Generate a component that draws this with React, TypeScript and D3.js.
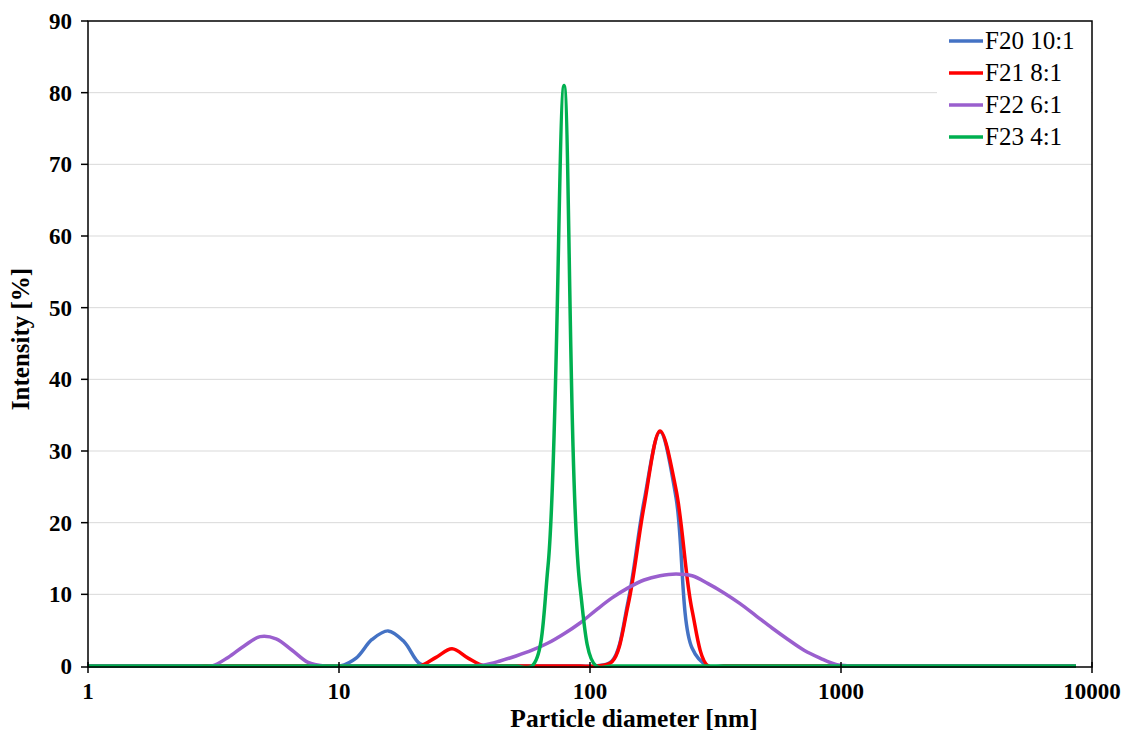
import React, { useEffect, useRef } from "react";
import * as d3 from "d3";

// Particle size bins (nm), as exported by the DLS instrument
const sizes = [
  0.9649, 1.117, 1.294, 1.499, 1.736, 2.01, 2.328, 2.696, 3.122, 3.615, 4.187, 4.849, 5.615, 6.503, 7.531, 8.721,
  10.1, 11.7, 13.54, 15.69, 18.17, 21.04, 24.36, 28.21, 32.67, 37.84, 43.82, 50.75, 58.77, 68.06, 78.82, 91.28,
  105.7, 122.4, 141.8, 164.2, 190.1, 220.2, 255.0, 295.3, 342.0, 396.1, 458.7, 531.2, 615.1, 712.4, 825.0, 955.4,
  1106, 1281, 1484, 1718, 1990, 2305, 2669, 3091, 3580, 4145, 4801, 5560, 6439, 7456, 8635,
];

// Intensity [%] per bin
const f20 = [
  0, 0, 0, 0, 0, 0, 0, 0, 0, 0, 0, 0, 0, 0, 0, 0,
  0, 1.1, 3.7, 4.9, 3.4, 0.3, 0, 0, 0, 0, 0, 0, 0, 0, 0, 0,
  0, 0.7, 9.0, 23.0, 32.7, 23.5, 2.5, 0, 0, 0, 0, 0, 0, 0, 0, 0,
  0, 0, 0, 0, 0, 0, 0, 0, 0, 0, 0, 0, 0, 0, 0,
];
const f21 = [
  0, 0, 0, 0, 0, 0, 0, 0, 0, 0, 0, 0, 0, 0, 0, 0,
  0, 0, 0, 0, 0, 0, 1.2, 2.4, 1.1, 0, 0, 0, 0, 0, 0, 0,
  0, 0.6, 8.5, 22.3, 32.8, 24.6, 7.8, 0, 0, 0, 0, 0, 0, 0, 0, 0,
  0, 0, 0, 0, 0, 0, 0, 0, 0, 0, 0, 0, 0, 0, 0,
];
const f22 = [
  0, 0, 0, 0, 0, 0, 0, 0, 0, 1.2, 2.8, 4.1, 3.8, 2.2, 0.5, 0,
  0, 0, 0, 0, 0, 0, 0, 0, 0, 0.15, 0.7, 1.4, 2.2, 3.2, 4.5, 6.0,
  7.8, 9.5, 10.9, 12.0, 12.6, 12.85, 12.6, 11.5, 10.2, 8.7, 7.0, 5.3, 3.7, 2.2, 1.1, 0.2,
  0, 0, 0, 0, 0, 0, 0, 0, 0, 0, 0, 0, 0, 0, 0,
];
const f23 = [
  0, 0, 0, 0, 0, 0, 0, 0, 0, 0, 0, 0, 0, 0, 0, 0,
  0, 0, 0, 0, 0, 0, 0, 0, 0, 0, 0, 0, 0, 14, 81, 11,
  0, 0, 0, 0, 0, 0, 0, 0, 0, 0, 0, 0, 0, 0, 0, 0,
  0, 0, 0, 0, 0, 0, 0, 0, 0, 0, 0, 0, 0, 0, 0,
];

const seriesNames = ["F20 10:1", "F21 8:1", "F22 6:1", "F23 4:1"];
const seriesValues = [f20, f21, f22, f23];
const seriesColors = ["#4472c4", "#ff0000", "#9a5fce", "#00b050"];

const xTicks = [1, 10, 100, 1000, 10000];
const yTicks = [0, 10, 20, 30, 40, 50, 60, 70, 80, 90];

const FONT = "'Liberation Serif', 'Times New Roman', serif";

export default function App() {
  const ref = useRef<SVGSVGElement>(null);

  useEffect(() => {
    const svg = d3.select(ref.current);
    svg.selectAll("*").remove();

    const left = 88,
      right = 1092,
      top = 21,
      bottom = 666;

    const x = d3.scaleLog().domain([1, 10000]).range([left, right]);
    const y = d3.scaleLinear().domain([0, 90]).range([bottom, top]);

    svg.append("rect").attr("width", 1125).attr("height", 733).attr("fill", "#fff");

    // horizontal gridlines
    svg
      .append("g")
      .selectAll("line")
      .data(yTicks.filter((t) => t > 0 && t < 90))
      .join("line")
      .attr("x1", left)
      .attr("x2", right)
      .attr("y1", (d) => y(d))
      .attr("y2", (d) => y(d))
      .attr("stroke", "#d9d9d9")
      .attr("stroke-width", 1);

    // clip series to the plot area
    svg
      .append("clipPath")
      .attr("id", "plot-clip")
      .append("rect")
      .attr("x", left)
      .attr("y", top)
      .attr("width", right - left)
      .attr("height", bottom - top + 2);

    const line = d3
      .line<[number, number]>()
      .x((d) => x(d[0]))
      .y((d) => y(d[1]))
      .curve(d3.curveCatmullRom.alpha(0.5));

    const series = svg.append("g").attr("clip-path", "url(#plot-clip)");
    seriesValues.forEach((vals, i) => {
      const pts = sizes.map((s, j) => [s, vals[j]] as [number, number]);
      series
        .append("path")
        .attr("d", line(pts))
        .attr("fill", "none")
        .attr("stroke", seriesColors[i])
        .attr("stroke-width", 3.5)
        .attr("stroke-linejoin", "round");
    });

    // frame and axes
    const axisY = bottom + 1;
    svg
      .append("rect")
      .attr("x", left)
      .attr("y", top)
      .attr("width", right - left)
      .attr("height", axisY - top)
      .attr("fill", "none")
      .attr("stroke", "#000")
      .attr("stroke-width", 1.5);

    // y ticks + labels
    const yAxis = svg.append("g");
    yAxis
      .selectAll("line")
      .data(yTicks)
      .join("line")
      .attr("x1", left - 7)
      .attr("x2", left)
      .attr("y1", (d) => (d === 0 ? axisY : y(d)))
      .attr("y2", (d) => (d === 0 ? axisY : y(d)))
      .attr("stroke", "#000")
      .attr("stroke-width", 1.5);
    yAxis
      .selectAll("text")
      .data(yTicks)
      .join("text")
      .attr("x", left - 16)
      .attr("y", (d) => y(d) + 8)
      .attr("text-anchor", "end")
      .attr("font-family", FONT)
      .attr("font-weight", "bold")
      .attr("font-size", 23)
      .text((d) => d);

    // x ticks + labels
    const xAxis = svg.append("g");
    xAxis
      .selectAll("line")
      .data(xTicks)
      .join("line")
      .attr("x1", (d) => x(d))
      .attr("x2", (d) => x(d))
      .attr("y1", axisY - 5)
      .attr("y2", axisY + 6)
      .attr("stroke", "#000")
      .attr("stroke-width", 1.5);
    xAxis
      .selectAll("text")
      .data(xTicks)
      .join("text")
      .attr("x", (d) => x(d))
      .attr("y", 699)
      .attr("text-anchor", "middle")
      .attr("font-family", FONT)
      .attr("font-weight", "bold")
      .attr("font-size", 23)
      .text((d) => d);

    // axis titles
    svg
      .append("text")
      .attr("x", 634)
      .attr("y", 727)
      .attr("text-anchor", "middle")
      .attr("font-family", FONT)
      .attr("font-weight", "bold")
      .attr("font-size", 25.5)
      .text("Particle diameter  [nm]");

    svg
      .append("text")
      .attr("transform", "translate(29, 339) rotate(-90)")
      .attr("text-anchor", "middle")
      .attr("font-family", FONT)
      .attr("font-weight", "bold")
      .attr("font-size", 25)
      .text("Intensity  [%]");

    // legend
    const legend = svg.append("g");
    legend
      .append("rect")
      .attr("x", 937)
      .attr("y", 22)
      .attr("width", 154)
      .attr("height", 132)
      .attr("fill", "#fff");
    seriesNames.forEach((name, i) => {
      const cy = 41 + i * 32;
      legend
        .append("line")
        .attr("x1", 949)
        .attr("x2", 983)
        .attr("y1", cy)
        .attr("y2", cy)
        .attr("stroke", seriesColors[i])
        .attr("stroke-width", 3.5);
      legend
        .append("text")
        .attr("x", 985)
        .attr("y", cy + 8)
        .attr("font-family", FONT)
        .attr("font-size", 25)
        .text(name);
    });
  }, []);

  return (
    <svg
      ref={ref}
      width={1125}
      height={733}
      style={{ position: "absolute", left: 0, top: 0 }}
    />
  );
}
